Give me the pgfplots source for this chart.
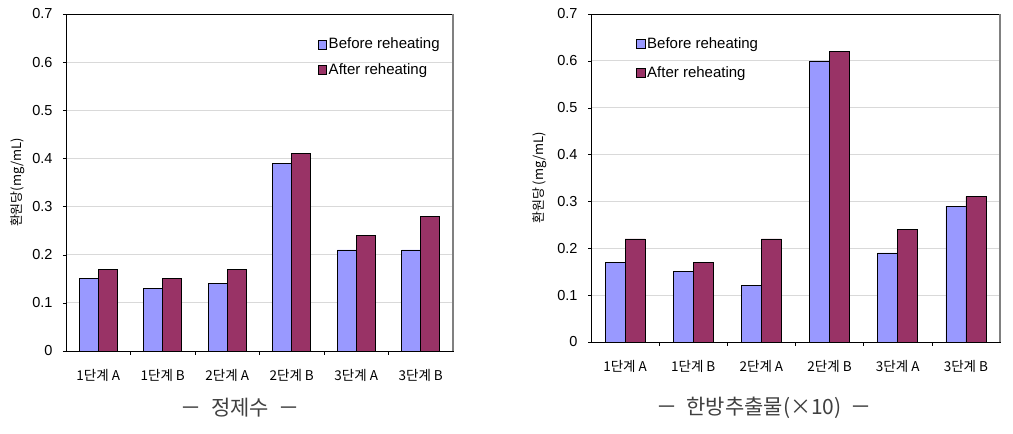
\documentclass[border=0pt]{standalone}
\usepackage{pgfplots}
\pgfplotsset{compat=1.18}
\usepackage{fontspec}
\setmainfont{Liberation Sans}
\newfontfamily\kr{Noto Sans CJK KR}
\definecolor{cblue}{HTML}{9999FF}
\definecolor{cpurp}{HTML}{993366}
\pgfplotsset{
  mybar/.style={
    scale only axis,
    ybar=0pt, bar width=0.294,
    xmin=0, xmax=6, ymin=0, ymax=0.7,
    xtick={0.5,1.5,2.5,3.5,4.5,5.5},
    xticklabels={{\kr 1단계 A},{\kr 1단계 B},{\kr 2단계 A},{\kr 2단계 B},{\kr 3단계 A},{\kr 3단계 B}},
    minor xtick={1,2,3,4,5},
    x tick style={draw=none},
    minor x tick style={draw=black, thin},
    minor tick length=4pt,
    xtick pos=bottom, ytick pos=left,
    ytick={0,0.1,...,0.7},
    yticklabels={0,0.1,0.2,0.3,0.4,0.5,0.6,0.7},
    y tick style={black, thin},
    tick align=outside,
    major tick length=3pt,
    ymajorgrids, grid style={gray!30, line width=0.8pt},
    axis line style={black, line width=0.8pt},
    yticklabel style={font=\fontsize{14.5}{16}\selectfont, xshift=-7pt},
    xticklabel style={font=\fontsize{13.5}{15}\selectfont, yshift=-12pt},
    /pgf/number format/assume math mode=true,
    ylabel style={font=\fontsize{13}{14}\selectfont, anchor=center},
    legend style={draw=none, fill=none, font=\fontsize{15}{16}\selectfont, anchor=north west, cells={anchor=west}, inner sep=0pt, row sep=9pt},
    legend image code/.code={\draw[#1,draw=black,line width=0.5pt] (0pt,-4.5pt) rectangle (8.5pt,4.5pt);},
    every axis plot/.append style={draw=black, line width=0.6pt},
    clip=false,
  }
}
\begin{document}
\begin{tikzpicture}[x=1pt,y=1pt]
\useasboundingbox (0,0) rectangle (1013,434);
\begin{axis}[mybar, at={(66pt,83pt)}, anchor=south west, width=387pt, height=337pt,
  ylabel={\kr 환원당(mg/mL)},
  ylabel style={at={(axis description cs:-0.124,0.5)}},
  legend style={at={(rel axis cs:0.65,0.935)}}]
\addplot[fill=cblue] coordinates {(0.5,0.15) (1.5,0.13) (2.5,0.14) (3.5,0.39) (4.5,0.21) (5.5,0.21)};
\addplot[fill=cpurp] coordinates {(0.5,0.17) (1.5,0.15) (2.5,0.17) (3.5,0.41) (4.5,0.24) (5.5,0.28)};
\legend{Before reheating, After reheating}
\draw[gray, line width=1.5pt] (rel axis cs:1,0) -- (rel axis cs:1,1);
\end{axis}
\begin{axis}[mybar, at={(591pt,92pt)}, anchor=south west, width=409pt, height=328pt,
  ylabel={\kr 환원당 (mg/mL)},
  ylabel style={at={(axis description cs:-0.125,0.5)}},
  legend style={at={(rel axis cs:0.11,0.935)}, row sep=13pt}]
\addplot[fill=cblue] coordinates {(0.5,0.17) (1.5,0.15) (2.5,0.12) (3.5,0.60) (4.5,0.19) (5.5,0.29)};
\addplot[fill=cpurp] coordinates {(0.5,0.22) (1.5,0.17) (2.5,0.22) (3.5,0.62) (4.5,0.24) (5.5,0.31)};
\legend{Before reheating, After reheating}
\draw[gray, line width=1.5pt] (rel axis cs:1,0) -- (rel axis cs:1,1);
\end{axis}
\node[font=\kr\fontsize{21}{23}\selectfont, text=black!75] at (240,26) {－\ \ 정제수\ \ －};
\node[font=\kr\fontsize{21}{23}\selectfont, text=black!75] at (764,26) {－\ \ 한방추출물(×10)\ \ －};
\end{tikzpicture}
\end{document}
